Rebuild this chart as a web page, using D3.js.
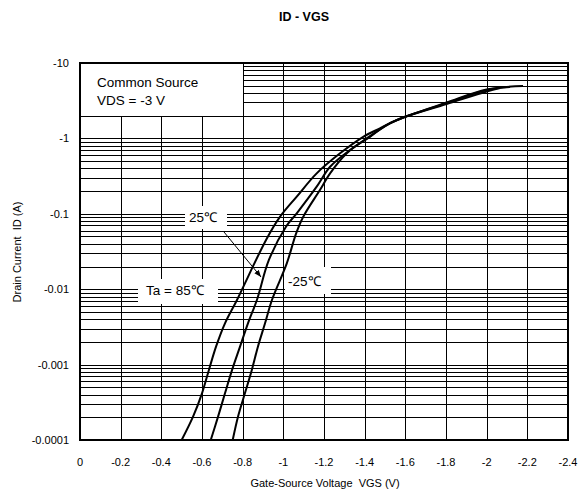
<!DOCTYPE html>
<html>
<head>
<meta charset="utf-8">
<script src="https://cdn.jsdelivr.net/npm/d3@7"></script>
<style>
  html, body { margin: 0; padding: 0; background: #fff; }
  text { font-family: "Liberation Sans", Arial, sans-serif; fill: #000; white-space: pre; }
</style>
</head>
<body>
<svg id="chart" width="587" height="497"></svg>
<script>
// ---- data ----
const xTicks = [0, -0.2, -0.4, -0.6, -0.8, -1, -1.2, -1.4, -1.6, -1.8, -2, -2.2, -2.4];
const xTickLabels = ["0", "-0.2", "-0.4", "-0.6", "-0.8", "-1", "-1.2", "-1.4", "-1.6", "-1.8", "-2", "-2.2", "-2.4"];
const yTicks = [-10, -1, -0.1, -0.01, -0.001, -0.0001];
const yTickLabels = ["-10", "-1", "-0.1", "-0.01", "-0.001", "-0.0001"];
const minorMultipliers = [2, 3, 4, 5, 6, 7, 8, 9];

const vgs85 = [-0.500, -0.556, -0.600, -0.634, -0.669, -0.713, -0.772, -0.915, -0.984, -1.066, -1.164, -1.279, -1.393, -1.475, -1.558, -1.603, -1.803, -2.000, -2.066];
const id85  = [-1.0e-4, -2.04e-4, -4.16e-4, -8.5e-4, -1.73e-3, -3.53e-3, -7.2e-3, -0.045, -0.0916, -0.169, -0.344, -0.634, -1.05, -1.36, -1.75, -1.95, -2.86, -4.19, -4.66];

const vgs25 = [-0.643, -0.679, -0.713, -0.748, -0.787, -0.826, -0.870, -0.929, -1.013, -1.066, -1.164, -1.230, -1.328, -1.426, -1.515, -1.603, -1.803, -2.000, -2.115];
const id25  = [-1.0e-4, -2.04e-4, -4.16e-4, -8.5e-4, -1.73e-3, -3.53e-3, -7.2e-3, -0.0244, -0.0674, -0.1016, -0.229, -0.421, -0.702, -1.05, -1.55, -1.95, -2.94, -4.39, -4.81];

const vgsM25 = [-0.751, -0.777, -0.811, -0.845, -0.875, -0.910, -0.944, -1.017, -1.063, -1.098, -1.180, -1.230, -1.312, -1.410, -1.525, -1.603, -1.803, -2.000, -2.179];
const idM25  = [-1.0e-4, -2.04e-4, -4.16e-4, -8.5e-4, -1.73e-3, -3.53e-3, -7.2e-3, -0.022, -0.0551, -0.0916, -0.207, -0.344, -0.634, -1.0, -1.58, -1.95, -2.99, -4.45, -4.95];

const seriesNames = ["85", "25", "-25"];

// ---- layout ----
const svg = d3.select("#chart");
const L = 80, R = 568, T = 63, B = 440;

const x = d3.scaleLinear().domain([0, -2.4]).range([L, R]);
const y = d3.scaleLog().domain([-0.0001, -10]).range([B, T]);

// title
svg.append("text").attr("x", 304).attr("y", 21).attr("text-anchor", "middle")
  .style("font-size", "12.5px").style("font-weight", "bold").text("ID - VGS");

const g = svg.append("g");

// grid: horizontal (decades + minors)
const minorVals = [];
yTicks.slice(1).forEach(d => minorMultipliers.forEach(m => minorVals.push(d * m)));
const hVals = yTicks.concat(minorVals);
g.selectAll("line.h").data(hVals).enter().append("line")
  .attr("x1", L).attr("x2", R)
  .attr("y1", d => Math.round(y(d)) + 0.5).attr("y2", d => Math.round(y(d)) + 0.5)
  .attr("stroke", "#000").attr("stroke-width", 1);

// grid: vertical
g.selectAll("line.v").data(xTicks).enter().append("line")
  .attr("y1", T).attr("y2", B)
  .attr("x1", d => Math.round(x(d)) + 0.5).attr("x2", d => Math.round(x(d)) + 0.5)
  .attr("stroke", "#000").attr("stroke-width", 1);

// white label boxes (hide grid)
const boxes = [
  [L + 1, T + 1, 243, 116],
  [185, 206, 227, 229],
  [138, 279, 218, 304],
  [285, 267, 331, 294]
];
g.selectAll("rect.box").data(boxes).enter().append("rect")
  .attr("x", d => d[0]).attr("y", d => d[1])
  .attr("width", d => d[2] - d[0]).attr("height", d => d[3] - d[1])
  .attr("fill", "#fff");

// frame
g.append("rect").attr("x", L).attr("y", T).attr("width", R - L).attr("height", B - T)
  .attr("fill", "none").attr("stroke", "#000").attr("stroke-width", 2);

// curves
const line = d3.line().x(d => x(d[0])).y(d => y(d[1])).curve(d3.curveCatmullRom.alpha(0.5));
const series = [
  d3.zip(vgs85, id85),
  d3.zip(vgs25, id25),
  d3.zip(vgsM25, idM25)
];
g.selectAll("path.curve").data(series).enter().append("path")
  .attr("d", line).attr("fill", "none").attr("stroke", "#000").attr("stroke-width", 2);

// axis tick labels
svg.selectAll("text.xt").data(xTicks).enter().append("text")
  .attr("x", d => x(d)).attr("y", 466).attr("text-anchor", "middle")
  .style("font-size", "11px").text((d, i) => xTickLabels[i]);
svg.selectAll("text.yt").data(yTicks).enter().append("text")
  .attr("x", 69).attr("y", d => y(d) + 4).attr("text-anchor", "end")
  .style("font-size", "11px").text((d, i) => yTickLabels[i]);

// axis titles
svg.append("text").attr("x", 325).attr("y", 487).attr("text-anchor", "middle")
  .style("font-size", "11px").text("Gate-Source Voltage  VGS (V)");
svg.append("text").attr("transform", "translate(21,252) rotate(-90)").attr("text-anchor", "middle")
  .style("font-size", "11px").text("Drain Current  ID (A)");

// annotations
svg.append("text").attr("x", 97).attr("y", 87).style("font-size", "13.5px").text("Common Source");
svg.append("text").attr("x", 97).attr("y", 105).style("font-size", "13.5px").text("VDS = -3 V");
svg.append("text").attr("x", 189).attr("y", 222).style("font-size", "13.5px").text("25\u2103");
svg.append("text").attr("x", 146).attr("y", 295).style("font-size", "13.5px").text("Ta = 85\u2103");
svg.append("text").attr("x", 288).attr("y", 286).style("font-size", "13.5px").text("-25\u2103");

// arrow
svg.append("defs").append("marker").attr("id", "ah").attr("viewBox", "0 0 10 10")
  .attr("refX", 10).attr("refY", 5).attr("markerWidth", 7).attr("markerHeight", 7)
  .attr("orient", "auto").append("path").attr("d", "M0,1 L10,5 L0,9 Z").attr("fill", "#000");
svg.append("line").attr("x1", 224).attr("y1", 232).attr("x2", 261).attr("y2", 277)
  .attr("stroke", "#000").attr("stroke-width", 1).attr("marker-end", "url(#ah)");
</script>
</body>
</html>
